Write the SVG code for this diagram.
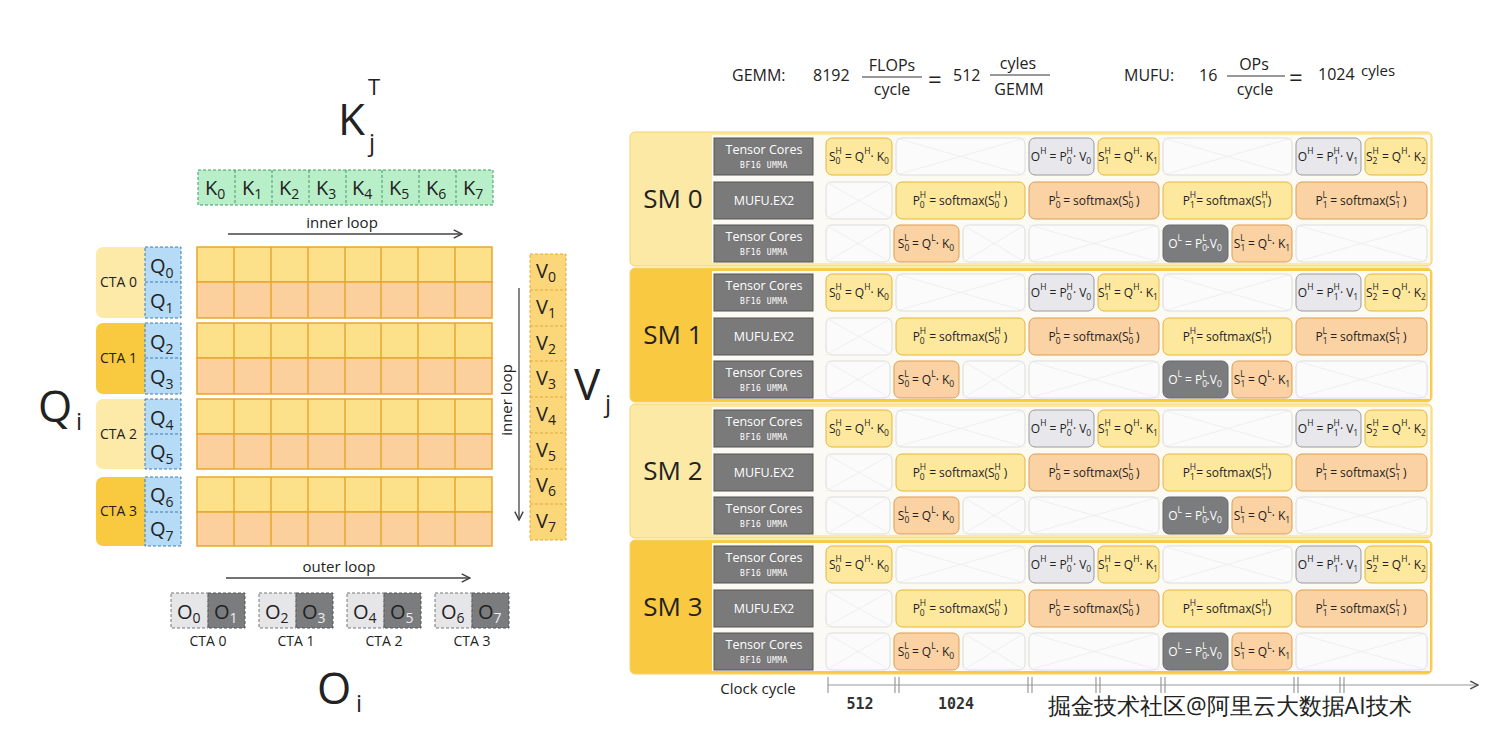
<svg xmlns="http://www.w3.org/2000/svg" xmlns:xlink="http://www.w3.org/1999/xlink" width="1488" height="740" viewBox="0 0 1488 740">
<style>
text{font-family:"Open Sans","Noto Sans",sans-serif;fill:#222}
.big{font-size:44px}
.kq{font-size:20px}
.ks{font-size:14px}
.lbl{font-size:15px}
.unit{font-size:12.5px;fill:#fff}
.unit2{font-size:8px;fill:#fff;font-family:"DejaVu Sans Mono",monospace;letter-spacing:0.5px}
.f{font-size:12px;text-anchor:middle}
.s{font-size:8.5px}
.fw{font-size:12px;text-anchor:middle;fill:#fff}
.fw tspan{fill:#fff}
.sm{font-size:26px;text-anchor:middle}
.eq{font-size:16px}
.ax{font-size:15px;font-family:"DejaVu Sans Mono",monospace;font-weight:bold;fill:#333;text-anchor:middle}
.y{fill:#fde89e;stroke:#e6b53a;stroke-width:1}
.o{fill:#fad2a4;stroke:#df9d4e;stroke-width:1}
.g{fill:#e8e8ec;stroke:#9a9aa0;stroke-width:1}
.d{fill:#7b7c7e;stroke:#6a6a6a;stroke-width:1}
.e{fill:#fbfbfb;stroke:#dcdcdc;stroke-width:1}
.x{stroke:#ececec;stroke-width:0.8}
.u{fill:#7a7a7a;stroke:#555;stroke-width:1}
.ln{stroke:#444;stroke-width:1.3;fill:none}
.dash{stroke-dasharray:3 2}
</style>
<defs>
<marker id="ah" viewBox="0 0 10 10" refX="9" refY="5" markerWidth="8" markerHeight="8" orient="auto"><path d="M1 1L9 5L1 9" fill="none" stroke="#444" stroke-width="1.4"/></marker>
<g id="smrows">
 <rect class="u" x="714" y="6" width="99" height="37"/>
 <text class="unit" x="764" y="22" text-anchor="middle">Tensor Cores</text>
 <text class="unit2" x="764" y="36" text-anchor="middle">BF16 UMMA</text>
 <rect class="u" x="714" y="50" width="99" height="37"/>
 <text class="unit" x="764" y="73" text-anchor="middle">MUFU.EX2</text>
 <rect class="u" x="714" y="93" width="99" height="37"/>
 <text class="unit" x="764" y="109" text-anchor="middle">Tensor Cores</text>
 <text class="unit2" x="764" y="123" text-anchor="middle">BF16 UMMA</text>
 <rect class="y" x="826" y="6" width="66" height="37" rx="6"/>
 <text class="f" x="859" y="29">S<tspan class="s" dy="3">0</tspan><tspan class="s" dx="-5" dy="-10">H</tspan><tspan dy="7"> = Q</tspan><tspan class="s" dy="-7">H</tspan><tspan dy="7">· K</tspan><tspan class="s" dy="3">0</tspan></text>
 <rect class="e" x="896" y="6" width="129" height="37" rx="6"/><path class="x" d="M896 6L1025 43M1025 6L896 43"/>
 <rect class="g" x="1029" y="6" width="65" height="37" rx="6"/>
 <text class="f" x="1061" y="29">O<tspan class="s" dy="-7">H</tspan><tspan dy="7"> = P</tspan><tspan class="s" dy="3">0</tspan><tspan class="s" dx="-5" dy="-10">H</tspan><tspan dy="7">· V</tspan><tspan class="s" dy="3">0</tspan></text>
 <rect class="y" x="1098" y="6" width="61" height="37" rx="6"/>
 <text class="f" x="1128" y="29">S<tspan class="s" dy="3">1</tspan><tspan class="s" dx="-5" dy="-10">H</tspan><tspan dy="7"> = Q</tspan><tspan class="s" dy="-7">H</tspan><tspan dy="7">· K</tspan><tspan class="s" dy="3">1</tspan></text>
 <rect class="e" x="1163" y="6" width="129" height="37" rx="6"/><path class="x" d="M1163 6L1292 43M1292 6L1163 43"/>
 <rect class="g" x="1296" y="6" width="65" height="37" rx="6"/>
 <text class="f" x="1328" y="29">O<tspan class="s" dy="-7">H</tspan><tspan dy="7"> = P</tspan><tspan class="s" dy="3">1</tspan><tspan class="s" dx="-5" dy="-10">H</tspan><tspan dy="7">· V</tspan><tspan class="s" dy="3">1</tspan></text>
 <rect class="y" x="1365" y="6" width="62" height="37" rx="6"/>
 <text class="f" x="1396" y="29">S<tspan class="s" dy="3">2</tspan><tspan class="s" dx="-5" dy="-10">H</tspan><tspan dy="7"> = Q</tspan><tspan class="s" dy="-7">H</tspan><tspan dy="7">· K</tspan><tspan class="s" dy="3">2</tspan></text>
 <rect class="e" x="826" y="50" width="66" height="37" rx="6"/><path class="x" d="M826 50L892 87M892 50L826 87"/>
 <rect class="y" x="896" y="50" width="129" height="37" rx="6"/>
 <text class="f" x="960" y="73">P<tspan class="s" dy="3">0</tspan><tspan class="s" dx="-5" dy="-10">H</tspan><tspan dy="7"> = softmax(S</tspan><tspan class="s" dy="3">0</tspan><tspan class="s" dx="-5" dy="-10">H</tspan><tspan dy="7"> )</tspan></text>
 <rect class="o" x="1029" y="50" width="130" height="37" rx="6"/>
 <text class="f" x="1094" y="73">P<tspan class="s" dy="3">0</tspan><tspan class="s" dx="-5" dy="-10">L</tspan><tspan dy="7"> = softmax(S</tspan><tspan class="s" dy="3">0</tspan><tspan class="s" dx="-5" dy="-10">L</tspan><tspan dy="7"> )</tspan></text>
 <rect class="y" x="1163" y="50" width="129" height="37" rx="6"/>
 <text class="f" x="1227" y="73">P<tspan class="s" dy="3">1</tspan><tspan class="s" dx="-5" dy="-10">H</tspan><tspan dy="7">= softmax(S</tspan><tspan class="s" dy="3">1</tspan><tspan class="s" dx="-5" dy="-10">H</tspan><tspan dy="7">)</tspan></text>
 <rect class="o" x="1296" y="50" width="131" height="37" rx="6"/>
 <text class="f" x="1361" y="73">P<tspan class="s" dy="3">1</tspan><tspan class="s" dx="-5" dy="-10">L</tspan><tspan dy="7"> = softmax(S</tspan><tspan class="s" dy="3">1</tspan><tspan class="s" dx="-5" dy="-10">L</tspan><tspan dy="7"> )</tspan></text>
 <rect class="e" x="826" y="93" width="64" height="37" rx="6"/><path class="x" d="M826 93L890 130M890 93L826 130"/>
 <rect class="o" x="894" y="93" width="65" height="37" rx="6"/>
 <text class="f" x="926" y="116">S<tspan class="s" dy="3">0</tspan><tspan class="s" dx="-5" dy="-10">L</tspan><tspan dy="7"> = Q</tspan><tspan class="s" dy="-7">L</tspan><tspan dy="7">· K</tspan><tspan class="s" dy="3">0</tspan></text>
 <rect class="e" x="963" y="93" width="62" height="37" rx="6"/><path class="x" d="M963 93L1025 130M1025 93L963 130"/>
 <rect class="e" x="1029" y="93" width="130" height="37" rx="6"/><path class="x" d="M1029 93L1159 130M1159 93L1029 130"/>
 <rect class="d" x="1163" y="93" width="65" height="37" rx="6"/>
 <text class="fw" x="1195" y="116">O<tspan class="s" dy="-7">L</tspan><tspan dy="7"> = P</tspan><tspan class="s" dy="3">0</tspan><tspan class="s" dx="-5" dy="-10">L</tspan><tspan dy="7">.V</tspan><tspan class="s" dy="3">0</tspan></text>
 <rect class="o" x="1232" y="93" width="60" height="37" rx="6"/>
 <text class="f" x="1262" y="116">S<tspan class="s" dy="3">1</tspan><tspan class="s" dx="-5" dy="-10">L</tspan><tspan dy="7"> = Q</tspan><tspan class="s" dy="-7">L</tspan><tspan dy="7">· K</tspan><tspan class="s" dy="3">1</tspan></text>
 <rect class="e" x="1296" y="93" width="131" height="37" rx="6"/><path class="x" d="M1296 93L1427 130M1427 93L1296 130"/>
</g>
</defs>
<rect width="1488" height="740" fill="#fff"/>

<g id="KjT">
 <text class="big" x="338" y="135">K</text>
 <text font-size="22" x="368" y="95">T</text>
 <text font-size="24" x="369" y="151">j</text>
</g>
<g id="Kblocks">
 <rect x="198" y="170" width="295" height="35" fill="#b9efc8" stroke="#3f9b67" stroke-width="1" class="dash"/>
 <path d="M235 170V205M272 170V205M309 170V205M346 170V205M382 170V205M419 170V205M456 170V205" stroke="#3f9b67" class="dash"/>
 <text class="kq" x="205" y="195">K<tspan class="ks" dy="4">0</tspan></text>
 <text class="kq" x="242" y="195">K<tspan class="ks" dy="4">1</tspan></text>
 <text class="kq" x="279" y="195">K<tspan class="ks" dy="4">2</tspan></text>
 <text class="kq" x="316" y="195">K<tspan class="ks" dy="4">3</tspan></text>
 <text class="kq" x="352" y="195">K<tspan class="ks" dy="4">4</tspan></text>
 <text class="kq" x="389" y="195">K<tspan class="ks" dy="4">5</tspan></text>
 <text class="kq" x="426" y="195">K<tspan class="ks" dy="4">6</tspan></text>
 <text class="kq" x="463" y="195">K<tspan class="ks" dy="4">7</tspan></text>
</g>

<g id="grid">
 <g fill="#fde08a" stroke="#e8a630" stroke-width="1.5">
  <rect x="197" y="247" width="295" height="35"/><rect x="197" y="323" width="295" height="35"/><rect x="197" y="399" width="295" height="35"/><rect x="197" y="477" width="295" height="35"/>
 </g>
 <g fill="#fbd09c" stroke="#e8a630" stroke-width="1.5">
  <rect x="197" y="282" width="295" height="36"/><rect x="197" y="358" width="295" height="36"/><rect x="197" y="434" width="295" height="35"/><rect x="197" y="512" width="295" height="34"/>
 </g>
 <path stroke="#e8a630" stroke-width="1.5" d="M234 247V318M271 247V318M308 247V318M345 247V318M381 247V318M418 247V318M455 247V318M234 323V394M271 323V394M308 323V394M345 323V394M381 323V394M418 323V394M455 323V394M234 399V469M271 399V469M308 399V469M345 399V469M381 399V469M418 399V469M455 399V469M234 477V546M271 477V546M308 477V546M345 477V546M381 477V546M418 477V546M455 477V546"/>
</g>

<g id="CTA0"><rect x="96" y="247" width="60" height="71" rx="7" fill="#fde9a8"/><text class="ks" x="100" y="287">CTA 0</text></g>
<g id="CTA1"><rect x="96" y="323" width="60" height="71" rx="7" fill="#f9c93f"/><text class="ks" x="100" y="363">CTA 1</text></g>
<g id="CTA2"><rect x="96" y="399" width="60" height="70" rx="7" fill="#fde9a8"/><text class="ks" x="100" y="439">CTA 2</text></g>
<g id="CTA3"><rect x="96" y="477" width="60" height="69" rx="7" fill="#f9c93f"/><text class="ks" x="100" y="516">CTA 3</text></g>
<g id="Qblocks">
 <g fill="#b5dbf6" stroke="#3a7fb5" class="dash">
  <rect x="145" y="247" width="36" height="71"/><rect x="145" y="323" width="36" height="71"/><rect x="145" y="399" width="36" height="70"/><rect x="145" y="477" width="36" height="69"/>
 </g>
 <path d="M145 282H181M145 358H181M145 434H181M145 512H181" stroke="#3a7fb5" class="dash"/>
 <text class="kq" x="150" y="273">Q<tspan class="ks" dy="5">0</tspan></text>
 <text class="kq" x="150" y="308">Q<tspan class="ks" dy="5">1</tspan></text>
 <text class="kq" x="150" y="349">Q<tspan class="ks" dy="5">2</tspan></text>
 <text class="kq" x="150" y="384">Q<tspan class="ks" dy="5">3</tspan></text>
 <text class="kq" x="150" y="425">Q<tspan class="ks" dy="5">4</tspan></text>
 <text class="kq" x="150" y="459">Q<tspan class="ks" dy="5">5</tspan></text>
 <text class="kq" x="150" y="502">Q<tspan class="ks" dy="5">6</tspan></text>
 <text class="kq" x="150" y="536">Q<tspan class="ks" dy="5">7</tspan></text>
</g>
<g id="Qi"><text class="big" x="38" y="422">Q</text><text font-size="24" x="76" y="430">i</text></g>

<g id="Vblocks">
 <rect x="530" y="254" width="36" height="286" fill="#fcd77a" stroke="#e0a83a" class="dash"/>
 <path d="M530 290H566M530 326H566M530 361H566M530 397H566M530 433H566M530 469H566M530 504H566" stroke="#e0a83a" class="dash"/>
 <text class="kq" x="536" y="278">V<tspan class="ks" dy="4">0</tspan></text>
 <text class="kq" x="536" y="314">V<tspan class="ks" dy="4">1</tspan></text>
 <text class="kq" x="536" y="350">V<tspan class="ks" dy="4">2</tspan></text>
 <text class="kq" x="536" y="385">V<tspan class="ks" dy="4">3</tspan></text>
 <text class="kq" x="536" y="421">V<tspan class="ks" dy="4">4</tspan></text>
 <text class="kq" x="536" y="457">V<tspan class="ks" dy="4">5</tspan></text>
 <text class="kq" x="536" y="492">V<tspan class="ks" dy="4">6</tspan></text>
 <text class="kq" x="536" y="528">V<tspan class="ks" dy="4">7</tspan></text>
</g>
<g id="Vj"><text class="big" x="574" y="400">V</text><text font-size="24" x="605" y="412">j</text></g>

<g id="connectors">
 <path class="ln" d="M228 234H462" marker-end="url(#ah)"/>
 <path class="ln" d="M519 288V520" marker-end="url(#ah)"/>
 <path class="ln" d="M226 578H470" marker-end="url(#ah)"/>
 <path d="M828 685H1478" stroke="#999" stroke-width="1.2" marker-end="url(#ah)"/>
 <path stroke="#999" stroke-width="1.2" d="M828 677V693M895 677V693M899 677V693M1028 677V693M1032 677V693M1096 677V693M1100 677V693M1161 677V693M1165 677V693M1294 677V693M1298 677V693M1340 677V693M1344 677V693"/>
</g>
<text class="lbl" x="342" y="228" text-anchor="middle">inner loop</text>
<text class="lbl" transform="translate(512 400) rotate(-90)" text-anchor="middle">inner loop</text>
<text class="lbl" x="339" y="572" text-anchor="middle">outer loop</text>

<g id="O01"><rect x="171" y="593" width="37" height="35" fill="#e6e6e8" stroke="#777" class="dash"/><rect x="208" y="593" width="37" height="35" fill="#7b7c7e" stroke="#555" class="dash"/>
 <text class="kq" x="177" y="619">O<tspan class="ks" dy="4">0</tspan></text><text class="kq" x="214" y="619" fill="#eee">O<tspan class="ks" dy="4" fill="#eee">1</tspan></text><text class="ks" x="208" y="646" text-anchor="middle">CTA 0</text></g>
<g id="O23"><rect x="259" y="593" width="37" height="35" fill="#e6e6e8" stroke="#777" class="dash"/><rect x="296" y="593" width="37" height="35" fill="#7b7c7e" stroke="#555" class="dash"/>
 <text class="kq" x="265" y="619">O<tspan class="ks" dy="4">2</tspan></text><text class="kq" x="302" y="619" fill="#eee">O<tspan class="ks" dy="4" fill="#eee">3</tspan></text><text class="ks" x="296" y="646" text-anchor="middle">CTA 1</text></g>
<g id="O45"><rect x="347" y="593" width="37" height="35" fill="#e6e6e8" stroke="#777" class="dash"/><rect x="384" y="593" width="37" height="35" fill="#7b7c7e" stroke="#555" class="dash"/>
 <text class="kq" x="353" y="619">O<tspan class="ks" dy="4">4</tspan></text><text class="kq" x="390" y="619" fill="#eee">O<tspan class="ks" dy="4" fill="#eee">5</tspan></text><text class="ks" x="384" y="646" text-anchor="middle">CTA 2</text></g>
<g id="O67"><rect x="435" y="593" width="37" height="35" fill="#e6e6e8" stroke="#777" class="dash"/><rect x="472" y="593" width="37" height="35" fill="#7b7c7e" stroke="#555" class="dash"/>
 <text class="kq" x="441" y="619">O<tspan class="ks" dy="4">6</tspan></text><text class="kq" x="478" y="619" fill="#eee">O<tspan class="ks" dy="4" fill="#eee">7</tspan></text><text class="ks" x="472" y="646" text-anchor="middle">CTA 3</text></g>
<g id="Oi"><text class="big" x="317" y="704">O</text><text font-size="24" x="356" y="712">i</text></g>

<g id="equations">
 <text class="eq" x="732" y="81">GEMM:</text>
 <text class="eq" x="813" y="81">8192</text>
 <text class="eq" x="892" y="71" text-anchor="middle">FLOPs</text>
 <path d="M862 77H922" stroke="#333"/>
 <text class="eq" x="892" y="95" text-anchor="middle">cycle</text>
 <text font-size="24" x="928" y="88">=</text>
 <text class="eq" x="953" y="81">512</text>
 <text class="eq" x="1018" y="69" text-anchor="middle">cyles</text>
 <path d="M990 75H1050" stroke="#333"/>
 <text class="eq" x="1019" y="95" text-anchor="middle">GEMM</text>
 <text class="eq" x="1124" y="81">MUFU:</text>
 <text class="eq" x="1199" y="81">16</text>
 <text class="eq" x="1254" y="70" text-anchor="middle">OPs</text>
 <path d="M1227 76H1285" stroke="#333"/>
 <text class="eq" x="1255" y="95" text-anchor="middle">cycle</text>
 <text font-size="24" x="1289" y="86">=</text>
 <text class="eq" x="1318" y="80">1024</text>
 <text font-size="15" x="1361" y="76">cyles</text>
</g>

<g id="SM0"><rect x="630" y="132" width="802" height="134" rx="5" fill="#fde9a6" stroke="#f6d46a"/><rect x="712" y="135" width="718" height="128" fill="#fbfaf5"/><text class="sm" x="673" y="208">SM 0</text><use xlink:href="#smrows" href="#smrows" transform="translate(0 132)"/></g>
<g id="SM1"><rect x="630" y="268" width="802" height="134" rx="5" fill="#f9ca41" stroke="#f6d46a"/><rect x="712" y="271" width="718" height="128" fill="#fbfaf5"/><text class="sm" x="673" y="344">SM 1</text><use xlink:href="#smrows" href="#smrows" transform="translate(0 268)"/></g>
<g id="SM2"><rect x="630" y="404" width="802" height="134" rx="5" fill="#fde9a6" stroke="#f6d46a"/><rect x="712" y="407" width="718" height="128" fill="#fbfaf5"/><text class="sm" x="673" y="480">SM 2</text><use xlink:href="#smrows" href="#smrows" transform="translate(0 404)"/></g>
<g id="SM3"><rect x="630" y="540" width="802" height="134" rx="5" fill="#f9ca41" stroke="#f6d46a"/><rect x="712" y="543" width="718" height="128" fill="#fbfaf5"/><text class="sm" x="673" y="616">SM 3</text><use xlink:href="#smrows" href="#smrows" transform="translate(0 540)"/></g>

<text x="758" y="694" font-size="15" text-anchor="middle">Clock cycle</text>
<text class="ax" x="860" y="709">512</text>
<text class="ax" x="956" y="709">1024</text>
<text x="1048" y="714" font-size="23" fill="#333" stroke="#fff" stroke-width="3" paint-order="stroke" font-family="Noto Sans CJK SC, sans-serif">掘金技术社区@阿里云大数据AI技术</text>
</svg>
